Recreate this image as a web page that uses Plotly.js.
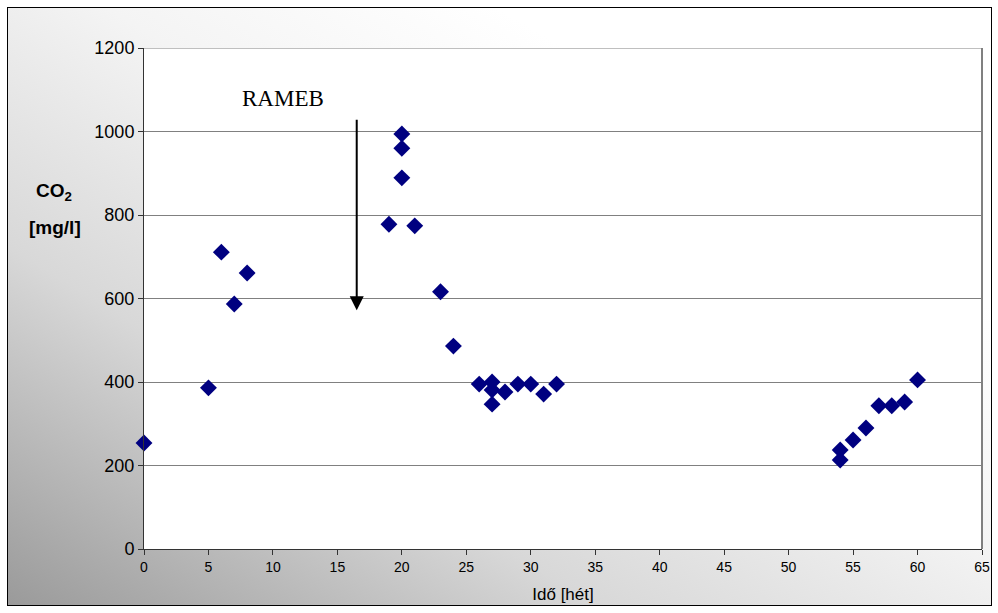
<!DOCTYPE html>
<html>
<head>
<meta charset="utf-8">
<script src="https://cdn.plot.ly/plotly-3.0.1.min.js"></script>
<style>
html,body{margin:0;padding:0;background:#fff;}
#wrap{position:relative;width:998px;height:613px;}
#bg{position:absolute;left:7px;top:7px;width:983px;height:597px;border:1px solid #000;
background:linear-gradient(to top right,#9a9a9a 0%,#d8d8d8 30%,#f4f4f4 55%,#ffffff 75%,#ffffff 100%);}
#chart{position:absolute;left:0;top:0;width:998px;height:613px;}
</style>
</head>
<body>
<div id="wrap"><div id="bg"></div><div id="chart"></div></div>
<script>
const weeks = [0, 5, 6, 7, 8, 19, 20, 20, 20, 21, 23, 24, 26, 27, 27, 27, 28, 29, 30, 31, 32, 54, 54, 55, 56, 57, 58, 59, 60];
const co2 = [254, 386, 711, 587, 661, 778, 994, 960, 889, 774, 616, 486, 395, 400, 381, 347, 376, 395, 395, 371, 395, 213, 237, 261, 290, 343, 343, 352, 405];
const xTicks = [0, 5, 10, 15, 20, 25, 30, 35, 40, 45, 50, 55, 60, 65];
const yTicks = [0, 200, 400, 600, 800, 1000, 1200];
const arrowLabel = "RAMEB";
const arrowX = 16.5, arrowFrom = 1032, arrowTo = 572;

const trace = {
  x: weeks, y: co2, type: 'scatter', mode: 'markers',
  marker: {symbol: 'diamond', size: 13, color: '#000080'},
  cliponaxis: false, hoverinfo: 'x+y'
};
const px = v => (v - 144) / 838;
const py = v => (549 - v) / 501;
const layout = {
  width: 998, height: 613,
  margin: {l: 144, r: 16, t: 48, b: 64},
  paper_bgcolor: 'rgba(0,0,0,0)', plot_bgcolor: '#ffffff',
  showlegend: false,
  font: {family: 'Arial, Liberation Sans, sans-serif', color: '#000'},
  xaxis: {
    range: [0, 65], tickvals: xTicks, ticks: 'outside', ticklen: 5, tickcolor: '#333',
    showline: true, linecolor: '#333', linewidth: 1, mirror: false,
    showgrid: false, zeroline: false, tickfont: {size: 14},
    title: {text: 'Idő [hét]', font: {size: 17}, standoff: 14}
  },
  yaxis: {
    range: [0, 1200], tickvals: yTicks, ticks: 'outside', ticklen: 5, tickcolor: '#333',
    showline: true, linecolor: '#333', linewidth: 1,
    showgrid: true, gridcolor: '#808080', gridwidth: 1, zeroline: false,
    tickfont: {size: 18}
  },
  shapes: [
    {type: 'line', xref: 'paper', yref: 'paper', x0: 1, x1: 1, y0: 0, y1: 1, line: {color: '#808080', width: 2}},
    {type: 'line', xref: 'paper', yref: 'y', x0: 0, x1: 1, y0: 1200, y1: 1200, line: {color: '#808080', width: 1}}
  ],
  annotations: [
    {x: arrowX, y: arrowTo, ax: arrowX, ay: arrowFrom, axref: 'x', ayref: 'y', xref: 'x', yref: 'y',
     showarrow: true, arrowhead: 2, arrowsize: 1.4, arrowwidth: 2, arrowcolor: '#000', text: ''},
    {x: 10.75, y: 1080, xref: 'x', yref: 'y', text: arrowLabel, showarrow: false,
     font: {family: 'Times New Roman, Liberation Serif, serif', size: 23, color: '#000'}},
    {xref: 'paper', yref: 'paper', x: px(54), y: py(192), xanchor: 'center', yanchor: 'middle',
     text: '<b>CO<sub>2</sub></b>', showarrow: false, font: {size: 19, color: '#000'}},
    {xref: 'paper', yref: 'paper', x: px(55), y: py(227), xanchor: 'center', yanchor: 'middle',
     text: '<b>[mg/l]</b>', showarrow: false, font: {size: 19, color: '#000'}}
  ]
};
Plotly.newPlot('chart', [trace], layout, {displayModeBar: false, staticPlot: true});
</script>
</body>
</html>
